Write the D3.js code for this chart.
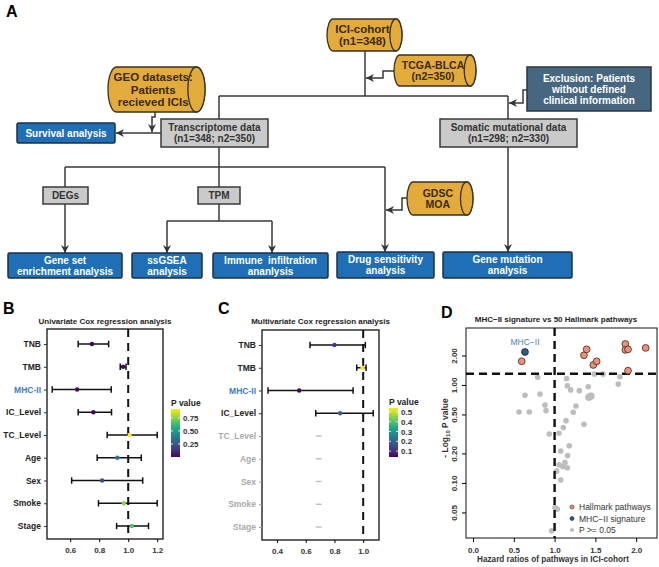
<!DOCTYPE html>
<html><head><meta charset="utf-8">
<script src="https://cdn.jsdelivr.net/npm/d3@7"></script>
<style>body{margin:0;background:#fff}svg{display:block}text{font-family:"Liberation Sans",Arial,sans-serif}</style>
</head><body><svg id="c" width="659" height="567"></svg>
<script>
// ---------------- DATA ----------------
const coxVars = ["TNB","TMB","MHC-II","IC_Level","TC_Level","Age","Sex","Smoke","Stage"];
// Univariate
const uniHR   = [0.75, 0.965, 0.648, 0.76, 1.01, 0.925, 0.82, 0.97, 1.025];
const uniLow  = [0.655, 0.945, 0.476, 0.655, 0.855, 0.786, 0.61, 0.795, 0.92];
const uniHigh = [0.865, 0.985, 0.883, 0.885, 1.20, 1.09, 1.10, 1.20, 1.14];
const uniP    = [0.005, 0.01, 0.02, 0.012, 0.92, 0.38, 0.22, 0.75, 0.66];
const uniTicks = [0.6, 0.8, 1.0, 1.2];
const uniPTicks = [0.25, 0.50, 0.75];
// Multivariate (last five rows not estimated)
const multiHR   = [0.80, 0.995, 0.555, 0.84, null, null, null, null, null];
const multiLow  = [0.63, 0.955, 0.338, 0.67, 0.67, 0.67, 0.67, 0.67, 0.67];
const multiHigh = [1.015, 1.02, 0.93, 1.07, 0.71, 0.71, 0.71, 0.71, 0.71];
const multiP    = [0.12, 0.54, 0.04, 0.20, null, null, null, null, null];
const multiTicks = [0.4, 0.6, 0.8, 1.0];
const multiPTicks = [0.1, 0.2, 0.3, 0.4, 0.5];
// Hallmark scatter
const hmHR   = [0.597, 1.36, 1.393, 1.475, 1.515, 1.867, 1.867, 1.90, 1.90, 2.116];
const hmLogP = [1.745, 2.01, 2.31, 1.60, 1.745, 2.62, 2.28, 2.31, 1.40, 2.39];
const mhcHR = [0.637], mhcLogP = [2.17];
const nsHR   = [0.793,1.148,1.487,1.593,1.80,1.78,1.156,1.197,1.303,1.413,0.821,0.637,1.42,1.446,0.882,1.262,0.895,0.564,0.69,1.229,
                1.14,1.36,1.107,1.054,0.935,1.18,1.075,1.16,1.127,1.054,1.099,1.156,1.025,1.075,1.005,1.033,0.964];
const nsLogP = [1.198,1.16,1.29,1.29,1.215,1.02,0.98,0.89,0.875,0.96,0.81,0.785,0.75,0.77,0.625,0.61,0.547,0.53,0.53,0.527,
                0.432,0.397,0.367,0.321,0.316,0.24,0.212,0.19,0.161,0.153,0.147,0.143,0.132,0.107,0.056,0.054,0.0324];
const nsBig  = [12,13];
const dXTicks = [0.0, 0.5, 1.0, 1.5, 2.0];
const dYTicks = [0.05, 0.10, 0.20, 0.50, 1.00, 2.00];
const dLegend = ["Hallmark pathways", "MHC\u2212II signature", "P >= 0.05"];

// Flowchart content
const flowNodes = [
  {id:"ici", kind:"cyl", lines:["ICI-cohort","(n1=348)"]},
  {id:"tcga", kind:"cyl", lines:["TCGA-BLCA","(n2=350)"]},
  {id:"geo", kind:"cyl", lines:["GEO datasets:","Patients","recieved ICIs"]},
  {id:"excl", kind:"dark", lines:["Exclusion: Patients","without defined","clinical information"]},
  {id:"trans", kind:"gray", lines:["Transcriptome data","(n1=348; n2=350)"]},
  {id:"soma", kind:"gray", lines:["Somatic mutational data","(n1=298; n2=330)"]},
  {id:"surv", kind:"blue", lines:["Survival analysis"]},
  {id:"degs", kind:"gray", lines:["DEGs"]},
  {id:"tpm", kind:"gray", lines:["TPM"]},
  {id:"gdsc", kind:"cyl", lines:["GDSC","MOA"]},
  {id:"gsea", kind:"blue", lines:["Gene set","enrichment analysis"]},
  {id:"ssgsea", kind:"blue", lines:["ssGSEA","analysis"]},
  {id:"immune", kind:"blue", lines:["Immune  infiltration","ananlysis"]},
  {id:"drug", kind:"blue", lines:["Drug sensitivity","analysis"]},
  {id:"genemut", kind:"blue", lines:["Gene mutation","analysis"]}
];

// ---------------- LAYOUT ----------------
const box = {
  ici:[327,19,75,32], tcga:[394,55,82,31], geo:[108,67,97,45], excl:[527,67,124,44],
  trans:[161,119,107,28], soma:[440,119,137,28], surv:[17,123,98,20],
  degs:[43,187,45,17], tpm:[198,187,42,17], gdsc:[407,182,66,33],
  gsea:[8,253,114,25], ssgsea:[132,253,70,25], immune:[213,253,115,25],
  drug:[337,252,97,26], genemut:[443,252,129,26]
};
const fontSize = {ici:11.5, geo:11.5, tcga:10.5, gdsc:10.5};
const styles = {
  cyl:{fill:"#e3aa3c", stroke:"#3a3020", text:"#3a2a0a"},
  dark:{fill:"#476680", stroke:"#2a3442", text:"#ffffff"},
  gray:{fill:"#cacaca", stroke:"#3a3a3a", text:"#333333"},
  blue:{fill:"#1f6fb6", stroke:"#1d2f45", text:"#ffffff"}
};
const flowLines = [
  {p:[[365,51],[365,96]]}, {p:[[219,96],[508,96]]}, {p:[[219,96],[219,119]]}, {p:[[508,96],[508,119]]},
  {p:[[394,71],[383,71],[383,78],[366,78]], a:1},
  {p:[[527,90],[523,90],[523,103],[509,103]], a:1},
  {p:[[155,112],[155,117],[152,117],[152,132]], a:1},
  {p:[[161,133],[116,133]], a:1},
  {p:[[219,147],[219,167]]}, {p:[[65,167],[385,167]]},
  {p:[[65,167],[65,187]]}, {p:[[219,167],[219,187]]},
  {p:[[385,167],[385,252]], a:1},
  {p:[[65,204],[65,253]], a:1},
  {p:[[219,204],[219,221]]}, {p:[[167,221],[272,221]]},
  {p:[[167,221],[167,253]], a:1}, {p:[[272,221],[272,253]], a:1},
  {p:[[407,198],[402,198],[402,210],[386,210]], a:1},
  {p:[[508,147],[508,252]], a:1}
];

const svg = d3.select("#c");
const defs = svg.append("defs");
defs.append("marker").attr("id","arr").attr("viewBox","0 0 10 10").attr("refX",10).attr("refY",5)
  .attr("markerWidth",9).attr("markerHeight",8).attr("markerUnits","userSpaceOnUse").attr("orient","auto")
  .append("path").attr("d","M0,0 L10,5 L0,10 L3,5 Z").attr("fill","#333");

// ---------- Panel A ----------
const gA = svg.append("g");
gA.append("text").attr("x",6).attr("y",17).attr("font-size",16).attr("font-weight","bold").text("A");
const lineGen = d3.line();
flowLines.forEach(l=>{
  gA.append("path").attr("d",lineGen(l.p)).attr("fill","none").attr("stroke","#383838").attr("stroke-width",1.5)
    .attr("marker-end", l.a ? "url(#arr)" : null);
});
flowNodes.forEach(n=>{
  const [x,y,w,h] = box[n.id]; const st = styles[n.kind];
  if(n.kind==="cyl"){
    const rx = Math.max(5, h*0.19), ry = h/2;
    const d = `M${x+rx},${y} L${x+w-rx},${y} A${rx},${ry} 0 0 1 ${x+w-rx},${y+h} L${x+rx},${y+h} A${rx},${ry} 0 0 1 ${x+rx},${y} Z`;
    gA.append("path").attr("d",d).attr("fill",st.fill).attr("stroke",st.stroke).attr("stroke-width",1.3);
    gA.append("ellipse").attr("cx",x+w-rx).attr("cy",y+h/2).attr("rx",rx).attr("ry",ry)
      .attr("fill",st.fill).attr("stroke",st.stroke).attr("stroke-width",1.3);
  } else {
    gA.append("rect").attr("x",x).attr("y",y).attr("width",w).attr("height",h).attr("rx",n.kind==="blue"?1.5:0)
      .attr("fill",st.fill).attr("stroke",st.stroke).attr("stroke-width",1.5);
  }
  const cx = n.kind==="cyl" ? x + (w - Math.max(5,h*0.19))/2 + 1 : x + w/2;
  const fs = fontSize[n.id] || 10;
  const lh = fs*1.1;
  const y0 = y + h/2 - (n.lines.length-1)*lh/2 + fs*0.36;
  n.lines.forEach((t,i)=>{
    gA.append("text").attr("x",cx).attr("y",y0+i*lh).attr("text-anchor","middle")
      .attr("font-size",fs).attr("font-weight","bold").attr("fill",st.text).style("white-space","pre").text(t);
  });
});

// ---------- Forest plots ----------
function forest(cfg){
  const g = svg.append("g");
  const x = d3.scaleLinear().domain(cfg.xDomain).range([cfg.left, cfg.right]);
  const y = d3.scalePoint().domain(coxVars).range([cfg.top+15, cfg.bottom-13]);
  const col = d3.scaleSequential(d3.interpolateViridis).domain(cfg.pDomain);
  g.append("text").attr("x",cfg.labelX).attr("y",314).attr("font-size",16).attr("font-weight","bold").text(cfg.letter);
  g.append("text").attr("x",(cfg.left+cfg.right)/2).attr("y",324).attr("text-anchor","middle")
    .attr("font-size",8).attr("font-weight","bold").attr("fill","#222").text(cfg.title);
  g.append("line").attr("x1",x(1)).attr("x2",x(1)).attr("y1",cfg.top).attr("y2",cfg.bottom)
    .attr("stroke","#111").attr("stroke-width",2).attr("stroke-dasharray","8,6");
  coxVars.forEach((v,i)=>{
    const yy = y(v);
    if(cfg.na && cfg.na[i]){
      g.append("line").attr("x1",x(cfg.low[i])).attr("x2",x(cfg.high[i])).attr("y1",yy).attr("y2",yy)
        .attr("stroke","#bbbbbb").attr("stroke-width",1.4);
      return;
    }
    g.append("line").attr("x1",x(cfg.low[i])).attr("x2",x(cfg.high[i])).attr("y1",yy).attr("y2",yy)
      .attr("stroke","#111").attr("stroke-width",1.5);
    [cfg.low[i],cfg.high[i]].forEach(e=>g.append("line").attr("x1",x(e)).attr("x2",x(e))
      .attr("y1",yy-3.2).attr("y2",yy+3.2).attr("stroke","#111").attr("stroke-width",1.5));
    g.append("circle").attr("cx",x(cfg.hr[i])).attr("cy",yy).attr("r",2.2).attr("fill",col(cfg.p[i]));
  });
  g.append("rect").attr("x",cfg.left).attr("y",cfg.top).attr("width",cfg.right-cfg.left).attr("height",cfg.bottom-cfg.top)
    .attr("fill","none").attr("stroke","#111").attr("stroke-width",1.3);
  const ax = g.append("g").attr("transform",`translate(0,${cfg.bottom})`)
    .call(d3.axisBottom(x).tickValues(cfg.ticks).tickSize(3).tickFormat(d3.format(".1f")));
  ax.select(".domain").remove();
  ax.selectAll("text").attr("font-size",8).attr("font-weight","bold").attr("fill","#333").attr("dy","0.95em");
  const ay = g.append("g").attr("transform",`translate(${cfg.left},0)`).call(d3.axisLeft(y).tickSize(3));
  ay.select(".domain").remove();
  ay.selectAll("text").attr("font-size",8.5).attr("font-weight","bold")
    .attr("fill",d=> d==="MHC-II" ? "#3f7cc4" : (cfg.na && cfg.na[coxVars.indexOf(d)] ? "#a9a9a9" : "#222"));
  ay.selectAll("line").attr("stroke",d=> (cfg.na && cfg.na[coxVars.indexOf(d)]) ? "#999" : "#333");
  const gid = "grad"+cfg.letter;
  const grad = defs.append("linearGradient").attr("id",gid).attr("x1",0).attr("x2",0).attr("y1",1).attr("y2",0);
  d3.range(0,1.0001,0.1).forEach(t=>grad.append("stop").attr("offset",t).attr("stop-color",d3.interpolateViridis(t)));
  const lb = cfg.legend;
  g.append("text").attr("x",lb.x).attr("y",lb.top-3).attr("font-size",8.5).attr("font-weight","bold").attr("fill","#222").text("P value");
  g.append("rect").attr("x",lb.x).attr("y",lb.top).attr("width",9).attr("height",lb.bottom-lb.top).attr("fill",`url(#${gid})`);
  const ly = d3.scaleLinear().domain(cfg.pDomain).range([lb.bottom, lb.top]);
  cfg.pTicks.forEach(t=>{
    g.append("line").attr("x1",lb.x).attr("x2",lb.x+2).attr("y1",ly(t)).attr("y2",ly(t)).attr("stroke","#fff").attr("stroke-width",0.8);
    g.append("line").attr("x1",lb.x+7).attr("x2",lb.x+9).attr("y1",ly(t)).attr("y2",ly(t)).attr("stroke","#fff").attr("stroke-width",0.8);
    g.append("text").attr("x",lb.x+12).attr("y",ly(t)+3).attr("font-size",8).attr("font-weight","bold").attr("fill","#333")
      .text(cfg.pFmt(t));
  });
  return {g,x,y};
}

forest({letter:"B", labelX:3, title:"Univariate Cox regression analysis",
  left:47, right:163, top:329, bottom:539, xDomain:[0.44,1.24], ticks:uniTicks,
  hr:uniHR, low:uniLow, high:uniHigh, p:uniP, pDomain:[0.0,0.92], pTicks:uniPTicks, pFmt:d3.format(".2f"),
  legend:{x:171, top:409, bottom:457}});

forest({letter:"C", labelX:218, title:"Multivariate Cox regression analysis",
  left:262, right:379, top:330, bottom:540, xDomain:[0.296,1.11], ticks:multiTicks,
  hr:multiHR, low:multiLow, high:multiHigh, p:multiP, na:multiHR.map(v=>v===null),
  pDomain:[0.04,0.54], pTicks:multiPTicks, pFmt:d3.format(".1f"),
  legend:{x:389, top:408, bottom:457}});

// ---------- Panel D ----------
const gD = svg.append("g");
const dL=466, dR=657, dT=328, dB=538;
const xD = d3.scaleLinear().domain([-0.0858, 2.255]).range([dL,dR]);
const yD = d3.scaleLog().domain([0.0274, 3.815]).range([dB,dT]);
gD.append("text").attr("x",441).attr("y",318).attr("font-size",16).attr("font-weight","bold").text("D");
gD.append("text").attr("x",556).attr("y",322).attr("text-anchor","middle").attr("font-size",8).attr("font-weight","bold")
  .attr("fill","#222").text("MHC\u2212II signature vs 50 Hallmark pathways");
nsHR.forEach((h,i)=>gD.append("circle").attr("cx",xD(h)).attr("cy",yD(nsLogP[i])).attr("r",nsBig.includes(i)?3.7:2.8).attr("fill","#bdbdbd"));
gD.append("line").attr("x1",xD(1)).attr("x2",xD(1)).attr("y1",dT).attr("y2",dB).attr("stroke","#111").attr("stroke-width",2.4).attr("stroke-dasharray","8,5");
gD.append("line").attr("x1",dL).attr("x2",dR).attr("y1",yD(-Math.log10(0.05))).attr("y2",yD(-Math.log10(0.05)))
  .attr("stroke","#111").attr("stroke-width",2.4).attr("stroke-dasharray","8,5");
hmHR.forEach((h,i)=>gD.append("circle").attr("cx",xD(h)).attr("cy",yD(hmLogP[i])).attr("r",3.4)
  .attr("fill","#e8927c").attr("stroke","#4a2418").attr("stroke-width",0.8));
mhcHR.forEach((h,i)=>{
  gD.append("circle").attr("cx",xD(h)).attr("cy",yD(mhcLogP[i])).attr("r",3.4).attr("fill","#2c5d85").attr("stroke","#15202c").attr("stroke-width",0.8);
  gD.append("text").attr("x",xD(h)).attr("y",yD(mhcLogP[i])-7).attr("text-anchor","middle").attr("font-size",8.5).attr("fill","#4a7fb5").text("MHC\u2212II");
});
gD.append("rect").attr("x",dL).attr("y",dT).attr("width",dR-dL).attr("height",dB-dT).attr("fill","none").attr("stroke","#111").attr("stroke-width",1);
const axD = gD.append("g").attr("transform",`translate(0,${dB})`).call(d3.axisBottom(xD).tickValues(dXTicks).tickSize(4).tickFormat(d3.format(".1f")));
axD.select(".domain").remove();
axD.selectAll("text").attr("font-size",8).attr("font-weight","bold").attr("fill","#333").attr("dy","1.05em");
const ayD = gD.append("g").attr("transform",`translate(${dL},0)`).call(d3.axisLeft(yD).tickValues(dYTicks).tickSize(4).tickFormat(d3.format(".2f")));
ayD.select(".domain").remove();
ayD.selectAll("text").attr("font-size",8).attr("font-weight","bold").attr("fill","#333")
  .attr("text-anchor","middle").attr("x",0).attr("y",0).attr("dy",null)
  .attr("transform","translate(-9,0) rotate(-90)");
gD.append("text").attr("transform","translate(448,428) rotate(-90)").attr("text-anchor","middle").attr("font-size",8.5)
  .attr("font-weight","bold").attr("fill","#333")
  .html('- Log<tspan font-size="6" dy="2">10</tspan><tspan dy="-2"> P value</tspan>');
gD.append("text").attr("x",553).attr("y",562).attr("text-anchor","middle").attr("font-size",8.2).attr("font-weight","bold")
  .attr("fill","#333").text("Hazard ratios of pathways in ICI-cohort");
const legFill = [["#e8927c","#4a2418"],["#2c5d85","#15202c"],["#bdbdbd","none"]];
dLegend.forEach((t,i)=>{
  const yy = 507 + i*11.5;
  gD.append("circle").attr("cx",572).attr("cy",yy).attr("r",2).attr("fill",legFill[i][0]).attr("stroke",legFill[i][1]).attr("stroke-width",0.6);
  gD.append("text").attr("x",579).attr("y",yy+3).attr("font-size",8.5).attr("fill","#333").text(t);
});
</script></body></html>
